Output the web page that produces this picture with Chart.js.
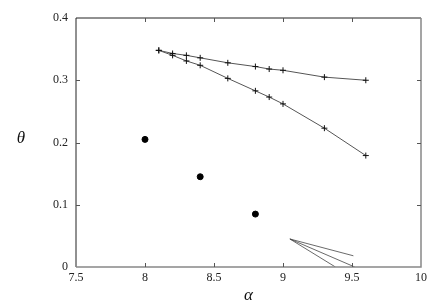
<!DOCTYPE html>
<html>
<head>
<meta charset="utf-8">
<script src="https://cdn.jsdelivr.net/npm/chart.js@4"></script>
<style>
  html, body { margin: 0; padding: 0; background: #fff; }
  #wrap { width: 436px; height: 305px; }
</style>
</head>
<body>
<div id="wrap"><canvas id="chart" width="436" height="305"></canvas></div>
<script>
// ── Data ──────────────────────────────────────────────────────────────────────
const branchAlpha = [8.1, 8.2, 8.3, 8.4, 8.6, 8.8, 8.9, 9.0, 9.3, 9.6];
const upperTheta  = [0.348, 0.343, 0.340, 0.336, 0.328, 0.322, 0.318, 0.316, 0.305, 0.300];
const lowerTheta  = [0.348, 0.340, 0.331, 0.324, 0.303, 0.283, 0.273, 0.262, 0.223, 0.179];

const dotAlpha = [8.0, 8.4, 8.8];
const dotTheta = [0.205, 0.145, 0.085];

// three short segments fanning out from one point
const fanStart = [9.05, 0.045];
const fanEndAlpha = [9.51, 9.38, 9.52];
const fanEndTheta = [0.018, 0.0, 0.0];

const X_TICKS = [7.5, 8, 8.5, 9, 9.5, 10];
const Y_TICKS = [0, 0.1, 0.2, 0.3, 0.4];

const SERIF = "'Liberation Serif', 'Times New Roman', serif";

const pts = (xs, ys) => xs.map((x, i) => ({ x, y: ys[i] }));

// ── Frame, inward ticks and axis symbols (gnuplot look) ──────────────────────
const framePlugin = {
  id: 'frame',
  afterDraw(chart) {
    const { ctx, chartArea: a, scales: { x, y } } = chart;
    const len = 4;
    ctx.save();
    ctx.lineWidth = 1;
    ctx.strokeStyle = '#222';
    ctx.beginPath();
    ctx.moveTo(a.left, a.bottom); ctx.lineTo(a.left, a.top); ctx.lineTo(a.right, a.top);
    ctx.stroke();
    ctx.strokeStyle = '#888';
    ctx.lineWidth = 1.5;
    ctx.beginPath();
    ctx.moveTo(a.left, a.bottom); ctx.lineTo(a.right, a.bottom); ctx.lineTo(a.right, a.top);
    ctx.stroke();

    ctx.strokeStyle = '#555';
    ctx.lineWidth = 1;
    ctx.beginPath();
    X_TICKS.slice(1, -1).forEach(v => {
      const px = Math.round(x.getPixelForValue(v)) + 0.5;
      ctx.moveTo(px, a.bottom); ctx.lineTo(px, a.bottom - len);
      ctx.moveTo(px, a.top); ctx.lineTo(px, a.top + len);
    });
    Y_TICKS.slice(1, -1).forEach(v => {
      const py = Math.round(y.getPixelForValue(v)) + 0.5;
      ctx.moveTo(a.left, py); ctx.lineTo(a.left + len, py);
      ctx.moveTo(a.right, py); ctx.lineTo(a.right - len, py);
    });
    ctx.stroke();

    ctx.fillStyle = '#111';
    ctx.font = "italic 17px 'Liberation Serif', serif";
    ctx.textAlign = 'center';
    ctx.textBaseline = 'middle';
    ctx.fillText('θ', 21, 139);
    ctx.fillText('α', (a.left + a.right) / 2, 296);
    ctx.restore();
  },
};

// ── Chart ─────────────────────────────────────────────────────────────────────
const lineStyle = {
  showLine: true,
  borderColor: '#555',
  borderWidth: 1,
  pointStyle: 'cross',
  pointRadius: 3,
  pointBorderColor: '#111',
  pointBorderWidth: 1,
  fill: false,
  tension: 0,
};

const fanSets = fanEndAlpha.map((ea, i) => ({
  data: [{ x: fanStart[0], y: fanStart[1] }, { x: ea, y: fanEndTheta[i] }],
  showLine: true,
  borderColor: '#444',
  borderWidth: 0.8,
  pointRadius: 0,
}));

new Chart(document.getElementById('chart'), {
  type: 'scatter',
  data: {
    datasets: [
      { ...lineStyle, data: pts(branchAlpha, upperTheta) },
      { ...lineStyle, data: pts(branchAlpha, lowerTheta) },
      {
        data: pts(dotAlpha, dotTheta),
        pointStyle: 'circle',
        pointRadius: 3,
        backgroundColor: '#000',
        borderColor: '#000',
      },
      ...fanSets,
    ],
  },
  options: {
    responsive: false,
    animation: false,
    layout: { padding: { left: 0, right: 15, top: 18, bottom: 0 } },
    plugins: { legend: { display: false }, tooltip: { enabled: false } },
    scales: {
      x: {
        type: 'linear', min: 7.5, max: 10,
        afterBuildTicks: s => { s.ticks = X_TICKS.map(v => ({ value: v })); },
        afterFit: s => { s.height = 38; },
        grid: { display: false, drawTicks: false },
        border: { display: false },
        ticks: { color: '#222', padding: 4, font: { family: SERIF, size: 12 }, callback: v => String(v) },
      },
      y: {
        type: 'linear', min: 0, max: 0.4,
        afterBuildTicks: s => { s.ticks = Y_TICKS.map(v => ({ value: v })); },
        afterFit: s => { s.width = 76; },
        grid: { display: false, drawTicks: false },
        border: { display: false },
        ticks: { color: '#222', padding: 8, font: { family: SERIF, size: 12 }, callback: v => String(v) },
      },
    },
  },
  plugins: [framePlugin],
});
</script>
</body>
</html>
